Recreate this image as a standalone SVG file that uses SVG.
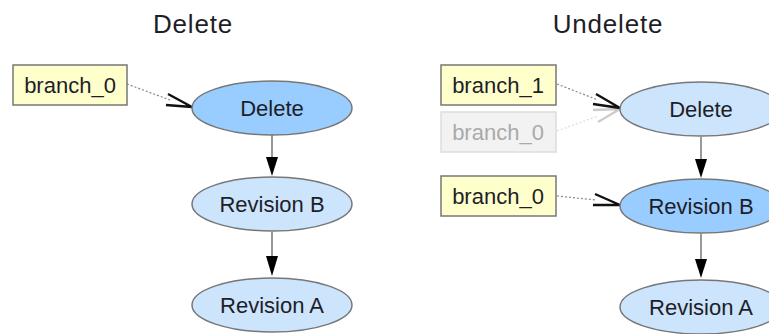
<svg xmlns="http://www.w3.org/2000/svg" width="769" height="334" viewBox="0 0 769 334">
<style>
.title{font-family:"Liberation Sans",Arial,sans-serif;font-size:26px;letter-spacing:0.8px;fill:#1e1e28;text-anchor:middle}
.lbl{font-family:"Liberation Sans",Arial,sans-serif;font-size:22px;fill:#1e1e28;text-anchor:middle}
.lbl.dim{fill:#aaa}
.box{fill:#ffffcc;stroke:#777;stroke-width:1.5}
.box.dim{fill:#f2f2f2;stroke:#ddd}
.ell{fill:#cce4fc;stroke:#777;stroke-width:1.5}
.ell.hi{fill:#99ccff}
.dot{fill:none;stroke:#888;stroke-width:1.2;stroke-dasharray:2 2}
.dot.dim{stroke:#ddd}
.open{fill:none;stroke:#111;stroke-width:2.4;stroke-linejoin:miter}
.open.dim{stroke:#ccc}
.solid{stroke:#777;stroke-width:1.5}
.head{fill:#000}
</style>
<rect width="769" height="334" fill="#fff"/>
<text class="title" x="193" y="33">Delete</text>
<text class="title" x="608" y="33">Undelete</text>

<g id="connectors">
  <line class="dot" x1="127" y1="84" x2="170" y2="100"/>
  <polyline class="open" points="168,94 192,107 166,105"/>
  <line class="solid" x1="272" y1="135" x2="272" y2="157"/>
  <polygon class="head" points="266,157 278,157 272,176"/>
  <line class="solid" x1="272" y1="232" x2="272" y2="256"/>
  <polygon class="head" points="266,256 278,256 272,276"/>
  <line class="dot dim" x1="557" y1="131" x2="598" y2="116"/>
  <polyline class="open dim" points="593,110 620,109 598,122"/>
  <line class="dot" x1="557" y1="84" x2="598" y2="100"/>
  <polyline class="open" points="596,94 620,108 593,104"/>
  <line class="dot" x1="557" y1="196" x2="596" y2="200"/>
  <polyline class="open" points="595,194 620,205 593,205"/>
  <line class="solid" x1="701" y1="137" x2="701" y2="159"/>
  <polygon class="head" points="695,159 707,159 701,178"/>
  <line class="solid" x1="701" y1="234" x2="701" y2="259"/>
  <polygon class="head" points="695,259 707,259 701,278"/>
</g>

<g id="l_branch_0">
  <rect class="box" x="13" y="65" width="114" height="40"/>
  <text class="lbl" x="70" y="93">branch_0</text>
</g>
<g id="l_delete">
  <ellipse class="ell hi" cx="272" cy="108" rx="80" ry="27"/>
  <text class="lbl" x="272" y="116">Delete</text>
</g>
<g id="l_revb">
  <ellipse class="ell" cx="272" cy="204" rx="80" ry="27"/>
  <text class="lbl" x="272" y="212">Revision B</text>
</g>
<g id="l_reva">
  <ellipse class="ell" cx="272" cy="305" rx="80" ry="27"/>
  <text class="lbl" x="272" y="313">Revision A</text>
</g>

<g id="r_branch_1">
  <rect class="box" x="441" y="65" width="115" height="40"/>
  <text class="lbl" x="498" y="93">branch_1</text>
</g>
<g id="r_branch_0_old">
  <rect class="box dim" x="441" y="112" width="115" height="40"/>
  <text class="lbl dim" x="498" y="140">branch_0</text>
</g>
<g id="r_branch_0">
  <rect class="box" x="441" y="176" width="115" height="40"/>
  <text class="lbl" x="498" y="204">branch_0</text>
</g>
<g id="r_delete">
  <ellipse class="ell" cx="701" cy="109" rx="81" ry="27"/>
  <text class="lbl" x="701" y="117">Delete</text>
</g>
<g id="r_revb">
  <ellipse class="ell hi" cx="701" cy="206" rx="81" ry="27"/>
  <text class="lbl" x="701" y="214">Revision B</text>
</g>
<g id="r_reva">
  <ellipse class="ell" cx="701" cy="307" rx="81" ry="27"/>
  <text class="lbl" x="701" y="315">Revision A</text>
</g>
</svg>
